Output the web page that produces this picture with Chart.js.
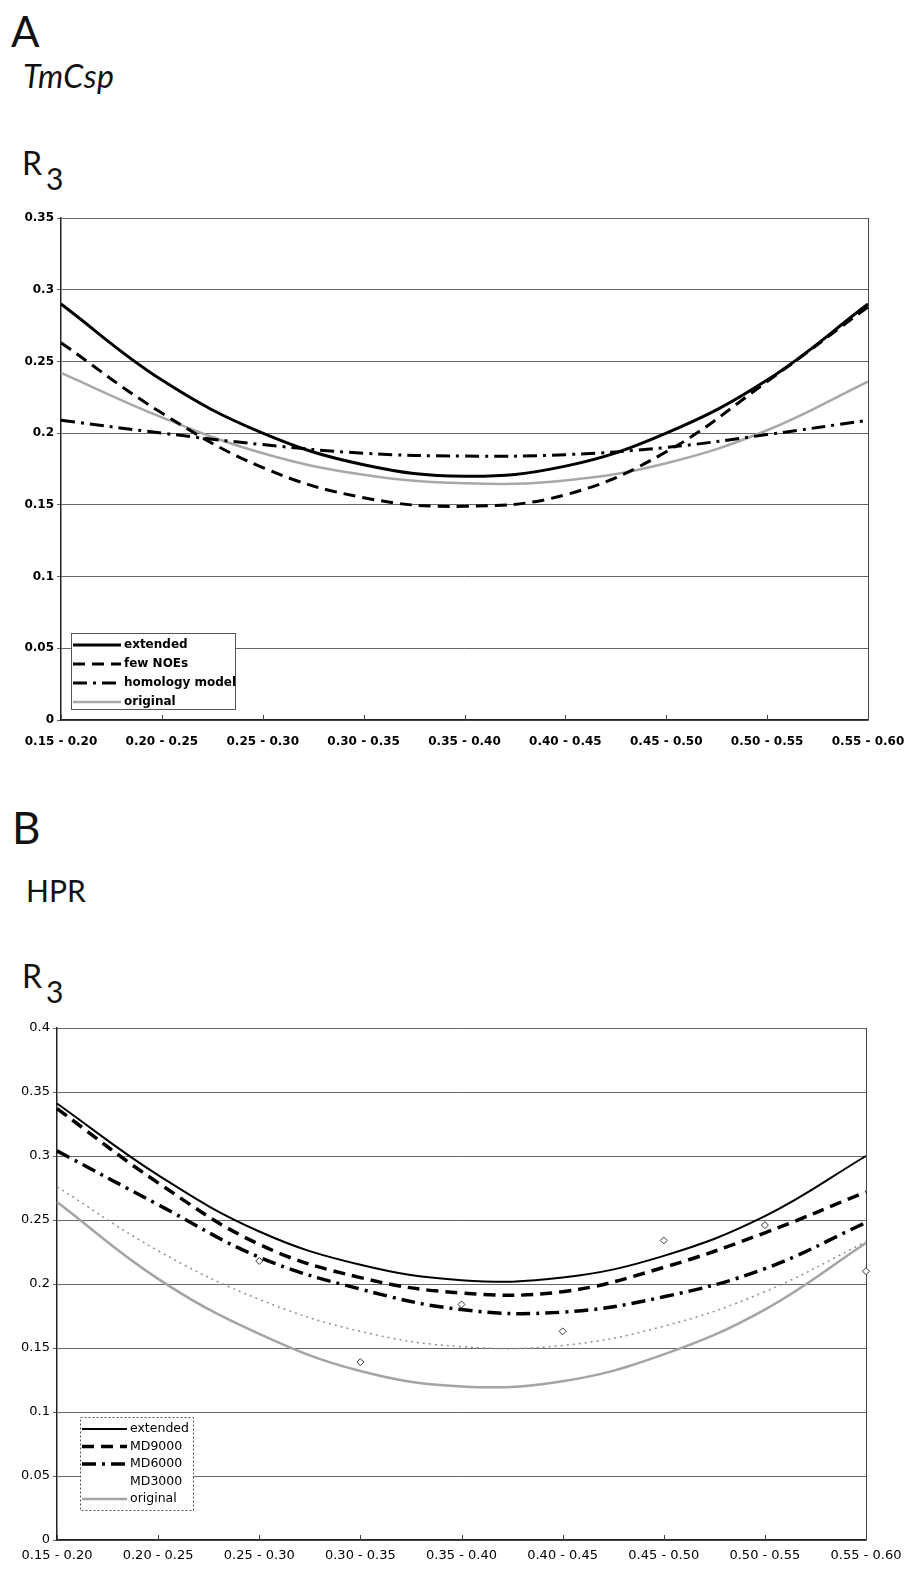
<!DOCTYPE html>
<html>
<head>
<meta charset="utf-8">
<script src="https://cdn.jsdelivr.net/npm/chart.js@4.4.1/dist/chart.umd.min.js"></script>
<style>
  body { margin: 0; background: #fff; width: 908px; height: 1569px; position: relative; overflow: hidden; }
  .t { position: absolute; font-family: Lato, "Noto Sans", sans-serif; color: #111; line-height: 1; white-space: nowrap; }
  .box { position: absolute; left: 0; }
</style>
</head>
<body>
<div class="t" style="left:11px;top:10px;font-size:42px;">A</div>
<div class="t" style="left:23px;top:60px;font-size:32px;font-style:italic;letter-spacing:0.5px;">TmCsp</div>
<div class="t" style="left:22px;top:147px;font-size:32px;">R</div>
<div class="t" style="left:46px;top:163px;font-size:30px;">3</div>

<div class="t" style="left:12px;top:805px;font-size:44px;">B</div>
<div class="t" style="left:26px;top:875px;font-size:30px;">HPR</div>
<div class="t" style="left:22px;top:960px;font-size:32px;">R</div>
<div class="t" style="left:46px;top:976px;font-size:30px;">3</div>

<div class="box" style="top:200px;"><canvas id="canvasA" width="908" height="560"></canvas></div>
<div class="box" style="top:1010px;"><canvas id="canvasB" width="908" height="559"></canvas></div>

<script>
// categories (x axis)
const categories = ['0.15 - 0.20', '0.20 - 0.25', '0.25 - 0.30', '0.30 - 0.35', '0.35 - 0.40',
                    '0.40 - 0.45', '0.45 - 0.50', '0.50 - 0.55', '0.55 - 0.60'];

// A : TmCsp
const tmExtended = [0.290, 0.237, 0.200, 0.178, 0.170, 0.177, 0.200, 0.237, 0.290];
const tmFewNoes  = [0.263, 0.214, 0.176, 0.155, 0.149, 0.157, 0.187, 0.236, 0.288];
const tmHomology = [0.209, 0.200, 0.192, 0.186, 0.184, 0.185, 0.190, 0.199, 0.209];
const tmOriginal = [0.242, 0.211, 0.186, 0.171, 0.165, 0.167, 0.179, 0.202, 0.236];

// B : HPR
const hpExtended = [0.341, 0.285, 0.241, 0.215, 0.203, 0.205, 0.222, 0.253, 0.300];
const hpMd9000   = [0.337, 0.279, 0.231, 0.205, 0.193, 0.194, 0.213, 0.240, 0.272];
const hpMd6000   = [0.304, 0.262, 0.221, 0.196, 0.180, 0.178, 0.190, 0.212, 0.248];
const hpMd3000   = [null, null, 0.218, 0.139, 0.184, 0.163, 0.234, 0.246, 0.210];
const hpMd3000Trend = [0.276, 0.226, 0.188, 0.163, 0.151, 0.152, 0.167, 0.194, 0.233];
const hpOriginal = [0.264, 0.204, 0.161, 0.132, 0.120, 0.124, 0.145, 0.180, 0.232];

// legend inside plot, drawn by hand
const boxLegend = {
    id: 'boxLegend',
    afterDraw(chart, args, opts) {
        const ctx = chart.ctx;
        ctx.save();
        ctx.fillStyle = '#fff';
        ctx.fillRect(opts.x, opts.y, opts.w, opts.h);
        ctx.strokeStyle = '#555';
        ctx.lineWidth = 1;
        ctx.setLineDash(opts.boxDash || []);
        ctx.strokeRect(opts.x + 0.5, opts.y + 0.5, opts.w, opts.h);
        ctx.font = opts.font;
        ctx.textBaseline = 'middle';
        let row = 0;
        chart.data.datasets.forEach(ds => {
            if (ds.noLegend) return;
            const y = opts.y + opts.first + row * opts.rowH;
            if (ds.showLine !== false) {
                ctx.beginPath();
                ctx.strokeStyle = ds.borderColor;
                ctx.lineWidth = ds.borderWidth;
                ctx.setLineDash(ds.borderDash || []);
                ctx.moveTo(opts.x + 2, y);
                ctx.lineTo(opts.x + opts.sample, y);
                ctx.stroke();
            }
            ctx.setLineDash([]);
            ctx.fillStyle = '#000';
            ctx.fillText(ds.label, opts.x + opts.sample + 3, y);
            row++;
        });
        ctx.restore();
    }
};

// right border of the plot + small upward ticks on the category axis
const frame = {
    id: 'frame',
    beforeDatasetsDraw(chart) {
        const a = chart.chartArea, ctx = chart.ctx;
        const xs = chart.scales.x;
        ctx.save();
        ctx.strokeStyle = '#444';
        ctx.lineWidth = 1;
        ctx.beginPath();
        ctx.moveTo(Math.round(a.right) + 0.5, a.top);
        ctx.lineTo(Math.round(a.right) + 0.5, a.bottom);
        xs.ticks.forEach((t, i) => {
            const px = Math.round(xs.getPixelForTick(i)) + 0.5;
            ctx.moveTo(px, a.bottom);
            ctx.lineTo(px, a.bottom - 5);
        });
        ctx.stroke();
        ctx.restore();
    }
};

function line(label, data, color, width, dash) {
    return {
        label: label, data: data, borderColor: color, borderWidth: width,
        borderDash: dash || [], pointRadius: 0, tension: 0.4, fill: false
    };
}

function makeOptions(cfg) {
    return {
        responsive: false,
        animation: false,
        layout: { padding: { top: 18, right: cfg.right, left: 0, bottom: 0 } },
        plugins: {
            legend: { display: false },
            tooltip: { enabled: false },
            boxLegend: cfg.legend
        },
        scales: {
            x: {
                type: 'category',
                offset: false,
                grid: { display: true, drawOnChartArea: false, drawTicks: false },
                border: { color: '#222', width: 1.5 },
                ticks: { autoSkip: false, maxRotation: 0, padding: cfg.xPad, color: '#000', font: cfg.font },
                afterFit: s => { s.height = cfg.xHeight; s.paddingLeft = 0; s.paddingRight = 0; }
            },
            y: {
                min: 0, max: cfg.max,
                grid: { color: '#666', lineWidth: 1, tickLength: 4 },
                border: { color: '#222', width: 1.5 },
                ticks: {
                    stepSize: 0.05, padding: 3, color: '#000', font: cfg.font,
                    callback: v => String(+v.toFixed(2))
                },
                afterFit: s => { s.width = cfg.yWidth; }
            }
        }
    };
}

// Graph A
let chartA = new Chart(document.getElementById('canvasA').getContext('2d'), {
    type: 'line',
    data: {
        labels: categories,
        datasets: [
            line('extended', tmExtended, '#000', 3),
            line('few NOEs', tmFewNoes, '#000', 3, [12, 7]),
            line('homology model', tmHomology, '#000', 3, [14, 6, 3, 6]),
            line('original', tmOriginal, '#a8a8a8', 2.5)
        ]
    },
    options: makeOptions({
        max: 0.35, right: 40, yWidth: 61, xHeight: 40, xPad: 15,
        font: { family: 'DejaVu Sans', size: 12, weight: 'bold' },
        legend: { x: 71, y: 433, w: 164, h: 76, first: 12, rowH: 19, sample: 50,
                  font: 'bold 12px "DejaVu Sans"' }
    }),
    plugins: [frame, boxLegend]
});

// Graph B
let md3000 = {
    label: 'MD3000', data: hpMd3000, showLine: false,
    pointStyle: 'rectRot', pointRadius: 3.5, pointBorderWidth: 1,
    pointBackgroundColor: '#fff', pointBorderColor: '#333', borderColor: '#fff', borderWidth: 0
};
let md3000Trend = line('MD3000 trend', hpMd3000Trend, '#8f8f8f', 1.5, [2, 4]);
md3000Trend.noLegend = true;

let chartB = new Chart(document.getElementById('canvasB').getContext('2d'), {
    type: 'line',
    data: {
        labels: categories,
        datasets: [
            line('extended', hpExtended, '#000', 2),
            line('MD9000', hpMd9000, '#000', 3.5, [12, 7]),
            line('MD6000', hpMd6000, '#000', 3.5, [14, 6, 3, 6]),
            md3000,
            md3000Trend,
            line('original', hpOriginal, '#a4a4a4', 2.5)
        ]
    },
    options: makeOptions({
        max: 0.4, right: 42, yWidth: 57, xHeight: 29, xPad: 8,
        font: { family: 'DejaVu Sans', size: 13 },
        legend: { x: 80, y: 407, w: 113, h: 93, first: 12, rowH: 17.5, sample: 47,
                  font: '12.5px "DejaVu Sans"', boxDash: [2, 2] }
    }),
    plugins: [frame, boxLegend]
});
</script>
</body>
</html>
